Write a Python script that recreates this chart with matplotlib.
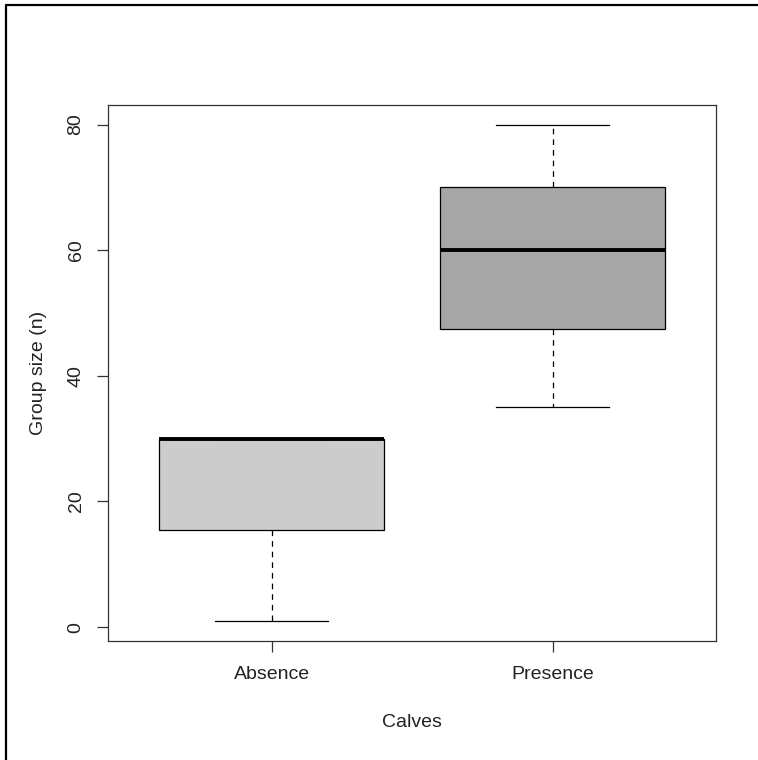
import matplotlib
matplotlib.use("Agg")
from matplotlib import pyplot as plt
from matplotlib.lines import Line2D

plt.rcParams['font.family'] = ['Liberation Sans', 'DejaVu Sans']

# box summaries
groups = ["Absence", "Presence"]
whislo = [1, 35]
q1 = [15.5, 47.5]
med = [30, 60]
q3 = [30, 70]
whishi = [30, 80]
fills = ["#cccccc", "#a6a6a6"]
yticks = [0, 20, 40, 60, 80]

stats = []
for i in range(len(groups)):
    stats.append(dict(label=groups[i], whislo=whislo[i], q1=q1[i], med=med[i],
                      q3=q3[i], whishi=whishi[i], fliers=[]))

fig = plt.figure(figsize=(7.58, 7.60), dpi=100)
ax = fig.add_axes([0.1431, 0.157, 0.8011, 0.7053])

lw = 0.9
bp = ax.bxp(stats, positions=[1, 2], widths=0.8, patch_artist=True,
            showfliers=False,
            boxprops=dict(linewidth=lw, edgecolor="black"),
            medianprops=dict(color="black", linewidth=2.8, solid_capstyle="butt"),
            whiskerprops=dict(color="black", linewidth=lw, linestyle=(0, (4.5, 4))),
            capprops=dict(color="black", linewidth=lw),
            capwidths=0.4)
for patch, c in zip(bp["boxes"], fills):
    patch.set_facecolor(c)

# R style limits, 4% padding
ax.set_xlim(0.42, 2.58)
ax.set_ylim(-2.16, 83.16)
ax.set_yticks(yticks)
ax.set_xticks([1, 2])
ax.set_xticklabels(groups)

for s in ax.spines.values():
    s.set_linewidth(lw)
    s.set_color("#333333")
ax.tick_params(axis="both", length=8.2, width=lw, color="#333333",
               labelsize=14, labelcolor="#222222")
ax.tick_params(axis="x", pad=10)
ax.tick_params(axis="y", pad=9)
for t in ax.get_yticklabels():
    t.set_rotation(90)
    t.set_va("center")

ax.set_xlabel("Calves", fontsize=14, color="#222222", labelpad=22)
ax.set_ylabel("Group size (n)", fontsize=14, color="#222222", labelpad=15)

# border of the original image (only left and top survive the crop)
fig.add_artist(Line2D([6 / 758, 6 / 758, 1.0], [0.0, 1 - 5 / 760, 1 - 5 / 760],
                      transform=fig.transFigure, color="black", linewidth=1.6))

fig.savefig("out.png", dpi=100)
